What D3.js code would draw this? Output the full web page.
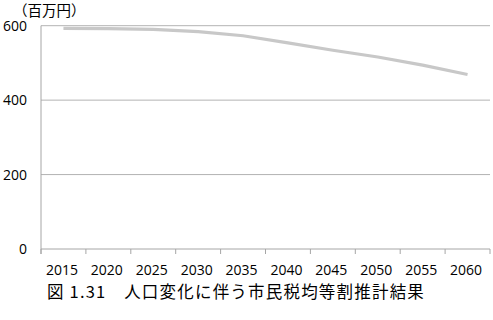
<!DOCTYPE html>
<html>
<head>
<meta charset="utf-8">
<script src="https://cdn.jsdelivr.net/npm/d3@7"></script>
<style>
  body { margin: 0; background: #fff; }
  svg { display: block; }
  text { font-family: "Open Sans", "Noto Sans CJK JP", sans-serif; fill: #000; }
</style>
</head>
<body>
<svg id="chart" width="493" height="320"></svg>
<script>
// chart data
var years = ['2015', '2020', '2025', '2030', '2035', '2040', '2045', '2050', '2055', '2060'];
var taxValues = [593, 592, 590, 584, 573, 554, 534, 516, 494, 469];
var yTicks = [0, 200, 400, 600];
var unitLabel = '（百万円）';
var caption = '図 1.31　人口変化に伴う市民税均等割推計結果';

var svg = d3.select('#chart');

var plotLeft = 41, plotRight = 490, plotTop = 25.7, plotBottom = 249;

var xScale = d3.scaleBand()
  .domain(years)
  .range([plotLeft, plotRight])
  .padding(0);

var yScale = d3.scaleLinear()
  .domain([0, 600])
  .range([plotBottom, plotTop]);

// gridlines
svg.append('g')
  .selectAll('line')
  .data(yTicks.filter(d => d > 0))
  .enter()
  .append('line')
  .attr('x1', plotLeft)
  .attr('x2', plotRight)
  .attr('y1', d => yScale(d))
  .attr('y2', d => yScale(d))
  .attr('stroke', '#b3b3b3')
  .attr('stroke-width', 1);

// y axis
var yAxis = svg.append('g')
  .attr('transform', `translate(${plotLeft}, 0)`)
  .call(d3.axisLeft(yScale).tickValues(yTicks).tickSize(0).tickPadding(14));
yAxis.select('.domain').attr('stroke', '#a6a6a6').attr('d', `M0,${plotTop}V${plotBottom + 5}`);
yAxis.selectAll('text')
  .style('font-size', '14px')
  .style('font-family', '"Open Sans", sans-serif')
  .attr('fill', '#000');

// x axis with ticks at band boundaries
var xAxis = svg.append('g')
  .attr('transform', `translate(0, ${plotBottom})`);
xAxis.append('line')
  .attr('x1', plotLeft)
  .attr('x2', plotRight)
  .attr('stroke', '#a6a6a6');
xAxis.selectAll('.tickmark')
  .data(years.concat(['end']))
  .enter()
  .append('line')
  .attr('class', 'tickmark')
  .attr('x1', (d, i) => plotLeft + i * xScale.bandwidth())
  .attr('x2', (d, i) => plotLeft + i * xScale.bandwidth())
  .attr('y1', 0)
  .attr('y2', 5)
  .attr('stroke', '#a6a6a6');
xAxis.selectAll('.label')
  .data(years)
  .enter()
  .append('text')
  .attr('class', 'label')
  .attr('x', d => xScale(d) + xScale.bandwidth() / 2 - 1.5)
  .attr('y', 25.5)
  .attr('text-anchor', 'middle')
  .style('font-size', '14px')
  .text(d => d);

// line
var line = d3.line()
  .x((d, i) => xScale(years[i]) + xScale.bandwidth() / 2)
  .y(d => yScale(d));

svg.append('path')
  .datum(taxValues)
  .attr('d', line)
  .attr('fill', 'none')
  .attr('stroke', '#c8c8c8')
  .attr('stroke-width', 3.2);

// unit label
svg.append('text')
  .attr('x', 13)
  .attr('y', 16)
  .style('font-size', '14.5px')
  .style('font-family', '"Noto Sans CJK JP", sans-serif')
  .text(unitLabel);

// caption
svg.append('text')
  .attr('x', 47)
  .attr('y', 298)
  .style('font-size', '16.5px')
  .style('letter-spacing', '1.2px')
  .style('font-family', '"Noto Sans CJK JP", sans-serif')
  .text(caption);
</script>
</body>
</html>
